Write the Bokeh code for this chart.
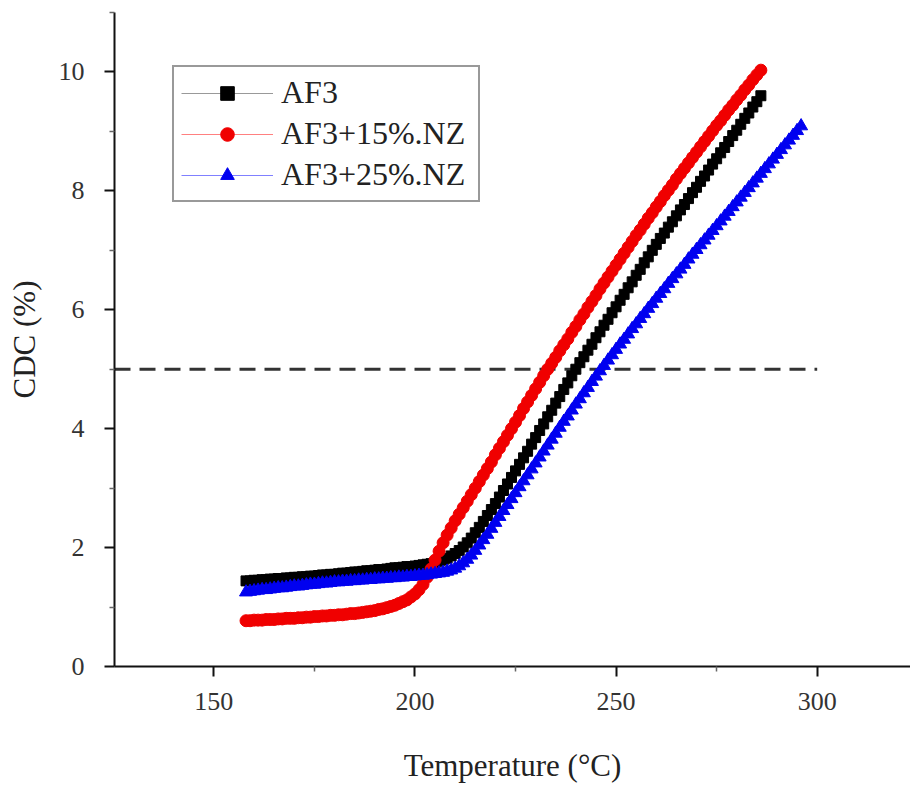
from bokeh.plotting import figure
from bokeh.models import Range1d, Legend, LegendItem, FixedTicker
from bokeh.embed import file_html
from bokeh.resources import INLINE

# ---- data ----
temp_af3 = list(range(158, 287))
cdc_af3 = [1.44, 1.44, 1.45, 1.45, 1.46, 1.46, 1.47, 1.47, 1.48, 1.48,
           1.49, 1.49, 1.50, 1.50, 1.51, 1.51, 1.52, 1.52, 1.53, 1.54,
           1.54, 1.55, 1.55, 1.56, 1.57, 1.57, 1.58, 1.59, 1.59, 1.60,
           1.61, 1.61, 1.62, 1.63, 1.63, 1.64, 1.65, 1.66, 1.66, 1.67,
           1.68, 1.68, 1.69, 1.70, 1.71, 1.72, 1.73, 1.75, 1.77, 1.79,
           1.82, 1.86, 1.90, 1.95, 2.01, 2.08, 2.16, 2.25, 2.34, 2.44,
           2.54, 2.64, 2.74, 2.85, 2.96, 3.07, 3.18, 3.29, 3.40, 3.51,
           3.62, 3.74, 3.85, 3.97, 4.08, 4.20, 4.31, 4.43, 4.54, 4.66,
           4.77, 4.89, 5.00, 5.11, 5.21, 5.32, 5.42, 5.53, 5.63, 5.74,
           5.84, 5.95, 6.05, 6.16, 6.26, 6.37, 6.47, 6.58, 6.68, 6.79,
           6.89, 7.00, 7.10, 7.20, 7.29, 7.39, 7.48, 7.58, 7.68, 7.77,
           7.87, 7.97, 8.06, 8.16, 8.25, 8.35, 8.45, 8.54, 8.64, 8.73,
           8.83, 8.93, 9.02, 9.12, 9.22, 9.31, 9.41, 9.50, 9.60]

temp_nz15 = list(range(158, 287))
cdc_nz15 = [0.77, 0.77, 0.78, 0.78, 0.78, 0.79, 0.79, 0.79, 0.80, 0.80,
            0.81, 0.81, 0.81, 0.82, 0.82, 0.83, 0.83, 0.84, 0.84, 0.85,
            0.85, 0.86, 0.86, 0.87, 0.87, 0.88, 0.89, 0.89, 0.90, 0.91,
            0.92, 0.93, 0.94, 0.96, 0.97, 0.99, 1.01, 1.03, 1.06, 1.09,
            1.12, 1.17, 1.22, 1.29, 1.38, 1.50, 1.64, 1.79, 1.94, 2.08,
            2.21, 2.33, 2.45, 2.56, 2.67, 2.78, 2.89, 3.00, 3.11, 3.22,
            3.33, 3.44, 3.56, 3.67, 3.78, 3.89, 4.00, 4.11, 4.22, 4.34,
            4.45, 4.56, 4.67, 4.78, 4.89, 5.00, 5.10, 5.20, 5.31, 5.41,
            5.51, 5.62, 5.72, 5.83, 5.93, 6.04, 6.14, 6.24, 6.35, 6.45,
            6.55, 6.65, 6.75, 6.85, 6.95, 7.05, 7.15, 7.25, 7.34, 7.44,
            7.54, 7.63, 7.73, 7.82, 7.92, 8.01, 8.10, 8.20, 8.29, 8.38,
            8.47, 8.56, 8.65, 8.74, 8.83, 8.92, 9.01, 9.10, 9.18, 9.27,
            9.36, 9.44, 9.53, 9.61, 9.70, 9.78, 9.87, 9.95, 10.03]

temp_nz25 = list(range(158, 297))
cdc_nz25 = [1.25, 1.26, 1.27, 1.28, 1.29, 1.29, 1.30, 1.31, 1.32, 1.32,
            1.33, 1.34, 1.35, 1.35, 1.36, 1.37, 1.38, 1.38, 1.39, 1.40,
            1.40, 1.41, 1.42, 1.42, 1.43, 1.43, 1.44, 1.44, 1.45, 1.45,
            1.46, 1.46, 1.47, 1.47, 1.48, 1.48, 1.49, 1.49, 1.50, 1.50,
            1.51, 1.51, 1.52, 1.53, 1.53, 1.54, 1.55, 1.56, 1.57, 1.58,
            1.60, 1.62, 1.65, 1.69, 1.74, 1.80, 1.87, 1.95, 2.04, 2.13,
            2.22, 2.32, 2.42, 2.52, 2.62, 2.72, 2.82, 2.92, 3.02, 3.12,
            3.22, 3.32, 3.42, 3.52, 3.62, 3.72, 3.82, 3.92, 4.02, 4.12,
            4.21, 4.31, 4.41, 4.50, 4.60, 4.69, 4.79, 4.88, 4.97, 5.06,
            5.15, 5.24, 5.33, 5.42, 5.50, 5.59, 5.68, 5.76, 5.85, 5.93,
            6.02, 6.10, 6.19, 6.27, 6.35, 6.44, 6.52, 6.60, 6.68, 6.76,
            6.85, 6.93, 7.01, 7.09, 7.17, 7.25, 7.33, 7.41, 7.49, 7.57,
            7.65, 7.73, 7.81, 7.89, 7.97, 8.05, 8.13, 8.21, 8.29, 8.37,
            8.45, 8.53, 8.61, 8.69, 8.77, 8.85, 8.93, 9.01, 9.09]

series_names = ["AF3", "AF3+15%.NZ", "AF3+25%.NZ"]
threshold_cdc = 5.0
threshold_x = [125.3, 300.0]
x_ticks = [150, 200, 250, 300]
y_ticks = [0, 2, 4, 6, 8, 10]

SERIF = "Liberation Serif"

p = figure(width=910, height=786, output_backend="svg", toolbar_location=None,
           x_range=Range1d(125.3, 323.2), y_range=Range1d(0, 11),
           min_border_left=114, min_border_right=0, min_border_top=12,
           min_border_bottom=120)
p.outline_line_color = None
p.grid.visible = False
p.background_fill_color = "white"
p.border_fill_color = "white"

for ax in (p.xaxis[0], p.yaxis[0]):
    ax.axis_line_width = 2
    ax.axis_line_color = "#111111"
    ax.major_tick_line_width = 2
    ax.major_tick_line_color = "#111111"
    ax.major_tick_out = 10
    ax.major_tick_in = 0
    ax.minor_tick_out = 5
    ax.minor_tick_in = 0
    ax.minor_tick_line_color = "#666666"
    ax.minor_tick_line_width = 1.5
    ax.major_label_text_font = SERIF
    ax.major_label_text_font_size = "26px"
    ax.major_label_text_color = "#333333"
    ax.axis_label_text_font = SERIF
    ax.axis_label_text_font_style = "normal"
    ax.axis_label_text_color = "#222222"

p.xaxis.ticker = FixedTicker(ticks=x_ticks, minor_ticks=[125, 175, 225, 275, 325])
p.yaxis.ticker = FixedTicker(ticks=y_ticks, minor_ticks=[1, 3, 5, 7, 9, 11])
p.xaxis.major_label_standoff = 16
p.yaxis.major_label_standoff = 20
p.xaxis.axis_label = "Temperature (°C)"
p.yaxis.axis_label = "CDC (%)"
p.xaxis.axis_label_text_font_size = "31px"
p.yaxis.axis_label_text_font_size = "31px"
p.xaxis.axis_label_standoff = 35
p.yaxis.axis_label_standoff = 14

# dashed threshold line
p.line(threshold_x, [threshold_cdc, threshold_cdc], line_color="#333333",
       line_width=3, line_dash="16 9")

l1 = p.line(temp_af3, cdc_af3, line_color="#999999", line_width=1)
m1 = p.scatter(temp_af3, cdc_af3, marker="square", size=10, color="black")
l2 = p.line(temp_nz15, cdc_nz15, line_color="#ff8080", line_width=1)
m2 = p.scatter(temp_nz15, cdc_nz15, marker="circle", size=12, color="#f00000")
l3 = p.line(temp_nz25, cdc_nz25, line_color="#8080ff", line_width=1)
m3 = p.scatter(temp_nz25, cdc_nz25, marker="triangle", size=13, color="#0000f0")

legend = Legend(items=[LegendItem(label=series_names[0], renderers=[l1, m1]),
                       LegendItem(label=series_names[1], renderers=[l2, m2]),
                       LegendItem(label=series_names[2], renderers=[l3, m3])],
                location=(58, 464))
legend.label_text_font = SERIF
legend.label_text_font_size = "32px"
legend.label_text_color = "#222222"
legend.border_line_color = "#333333"
legend.border_line_width = 2
legend.glyph_width = 92
legend.glyph_height = 34
legend.label_height = 34
legend.label_width = 190
legend.spacing = 4
legend.padding = 7
legend.margin = 0
legend.label_standoff = 8
legend.background_fill_alpha = 1
p.add_layout(legend, "center")

open("out.html", "w").write(file_html(p, INLINE))
